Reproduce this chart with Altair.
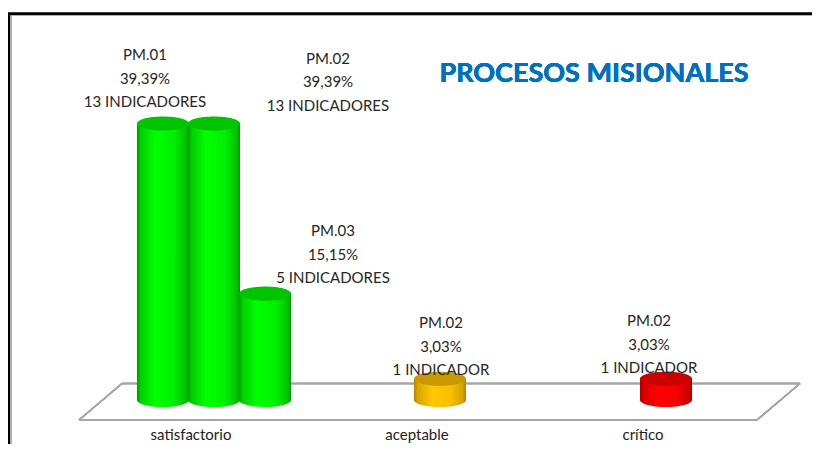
import altair as alt
import pandas as pd

# ---- data ----
categories = ["satisfactorio", "satisfactorio", "satisfactorio", "aceptable", "crítico"]
series = ["PM.01", "PM.02", "PM.03", "PM.02", "PM.02"]
percent = [39.39, 39.39, 15.15, 3.03, 3.03]
indicators = [13, 13, 5, 1, 1]
level = ["green", "green", "green", "yellow", "red"]

cat_domain = ["satisfactorio", "aceptable", "crítico"]
series_domain = ["PM.01", "PM.02", "PM.03"]

def label_text(s, p, n):
    pct = f"{p:.2f}".replace(".", ",") + "%"
    ind = f"{n} INDICADOR" + ("ES" if n != 1 else "")
    return f"{s}\n{pct}\n{ind}"

df = pd.DataFrame({
    "cat": categories,
    "serie": series,
    "pct": percent,
    "n": indicators,
    "level": level,
})
df["label"] = [label_text(s, p, n) for s, p, n in zip(series, percent, indicators)]
df["zero"] = 0.0
df["idx"] = range(len(df))

FONT = "Lato"
W, H = 678, 360

x_enc = alt.X("cat:N", scale=alt.Scale(domain=cat_domain, paddingInner=0.323, paddingOuter=0.1615),
              axis=alt.Axis(title=None, domain=False, ticks=False, grid=False, labelAngle=0,
                            labelOffset=-23, labelPadding=27, labelFontSize=15, labelFont=FONT,
                            labelColor="#222222"))
xo_enc = alt.XOffset("serie:N", scale=alt.Scale(domain=series_domain, paddingInner=0, paddingOuter=0))
y_scale = alt.Scale(domain=[0, 51.28], nice=False, zero=True)

base = alt.Chart(df).encode(x=x_enc, xOffset=xo_enc)

def grad(stops):
    return alt.Gradient(gradient="linear", x1=0, x2=1, y1=0, y2=0,
                        stops=[alt.GradientStop(offset=o, color=c) for o, c in stops])

palettes = {
    "green": ([(0, "#009A00"), (0.07, "#00D000"), (0.35, "#00FF00"), (0.7, "#00F000"),
               (0.93, "#00C400"), (1, "#009C00")], "#00C400"),
    "yellow": ([(0, "#B08400"), (0.07, "#D9A400"), (0.35, "#FFC800"), (0.7, "#F8C000"),
                (0.93, "#D8A200"), (1, "#B08400")], "#C99A00"),
    "red": ([(0, "#A80000"), (0.07, "#D80000"), (0.35, "#FF0000"), (0.7, "#F80000"),
             (0.93, "#D00000"), (1, "#A80000")], "#CC0000"),
}

ELLIPSE = "M-1,0 A1,0.27 0 1,0 1,0 A1,0.27 0 1,0 -1,0 Z"
HALF = "M-1,0 A1,0.27 0 0,0 1,0 Z"
SIZE = 52 * 52

layers = []

# border of the chart frame
layers.append(alt.Chart(df).mark_rule(color="black", strokeWidth=2.5).encode(
    x=alt.value(-94), x2=alt.value(760), y=alt.value(-26)))
layers.append(alt.Chart(df).mark_rule(color="black", strokeWidth=2.5).encode(
    x=alt.value(-92), y=alt.value(-27), y2=alt.value(420)))
layers.append(alt.Chart(df).mark_rule(color="#b0b0b0", strokeWidth=1).encode(
    x=alt.value(-90), y=alt.value(-24.5), y2=alt.value(420)))
layers.append(alt.Chart(df).mark_rule(color="#b0b0b0", strokeWidth=1).encode(
    x=alt.value(-90), x2=alt.value(760), y=alt.value(-24.5)))

# floor (3-D base plane)
floor_color = "#a6a6a6"
for (xa, ya, xb, yb) in [(21, 343.5, 699, 343.5), (699, 343.5, 656, 380), (656, 380, -22, 380), (-22, 380, 21, 343.5)]:
    layers.append(alt.Chart(df).mark_rule(color=floor_color, strokeWidth=1.5).encode(
        x=alt.value(xa), y=alt.value(ya), x2=alt.value(xb), y2=alt.value(yb)))

# cylinders
for lv, (stops, top_col) in palettes.items():
    sub = base.transform_filter(alt.datum.level == lv)
    layers.append(sub.mark_bar(color=grad(stops), size=52).encode(
        y=alt.Y("pct:Q", scale=y_scale, axis=None), y2="zero:Q"))
    layers.append(sub.mark_point(shape=HALF, filled=True, size=SIZE, color=grad(stops), opacity=1,
                                 strokeWidth=0).encode(y=alt.Y("zero:Q", scale=y_scale, axis=None)))
    layers.append(sub.mark_point(shape=ELLIPSE, filled=True, size=SIZE, color=top_col, opacity=1,
                                 strokeWidth=0).encode(y=alt.Y("pct:Q", scale=y_scale, axis=None)))

# data labels (manually displaced as in the reference)
offsets = [(-18, -68), (114, -64.5), (68, -62.5), (1, -55.5), (-17, -57.5)]
for i, (dx, dy) in enumerate(offsets):
    layers.append(base.transform_filter(alt.datum.idx == i).mark_text(
        font=FONT, fontSize=15, color="#262626", lineBreak="\n", lineHeight=23.5,
        align="center", baseline="middle", dx=dx, dy=dy).encode(
        y=alt.Y("pct:Q", scale=y_scale, axis=None), text="label:N"))

# title
layers.append(alt.Chart(df).mark_text(
    text="PROCESOS MISIONALES", font=FONT, fontSize=27, fontWeight="bold", color="#0070C0",
    align="center", baseline="middle").encode(x=alt.value(493), y=alt.value(34)))

chart = alt.layer(*layers).properties(
    width=W, height=H,
    autosize=alt.AutoSizeParams(type="none"),
    padding={"left": 93, "top": 32, "right": 33, "bottom": 44},
    background="white",
).configure_view(stroke=None).configure_axis(grid=False)

chart.save("out.html", embed_options={"renderer": "svg", "actions": False})
